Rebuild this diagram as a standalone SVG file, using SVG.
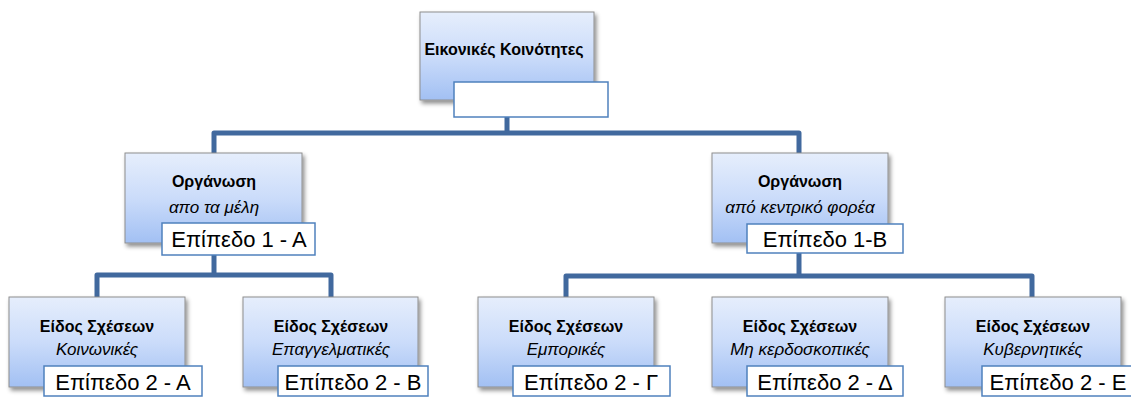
<svg xmlns="http://www.w3.org/2000/svg" width="1131" height="397" viewBox="0 0 1131 397">
  <defs>
    <linearGradient id="boxFill" x1="0" y1="0" x2="0" y2="1">
      <stop offset="0" stop-color="#e6eefc"/>
      <stop offset="0.5" stop-color="#cbdcfa"/>
      <stop offset="1" stop-color="#a2c0f3"/>
    </linearGradient>
    <filter id="shadow" x="-10%" y="-10%" width="125%" height="130%">
      <feDropShadow dx="2" dy="3" stdDeviation="2" flood-color="#000" flood-opacity="0.45"/>
    </filter>
  </defs>
  <style>
    .box { fill: url(#boxFill); stroke: #8e8e8e; stroke-width: 1; filter: url(#shadow); }
    .tag { fill: #ffffff; stroke: #4f81bd; stroke-width: 1.5; }
    .conn { fill: none; stroke: #41699e; stroke-width: 5; stroke-linejoin: round; }
    .title { font-family: "Liberation Sans", Arial, sans-serif; font-weight: bold; font-size: 16px; fill: #000; text-anchor: middle; }
    .sub { font-family: "Liberation Sans", Arial, sans-serif; font-style: italic; font-size: 17px; fill: #000; text-anchor: middle; }
    .lvl { font-family: "Liberation Sans", Arial, sans-serif; font-size: 22px; fill: #000; text-anchor: middle; }
  </style>

  <g id="connectors">
    <path class="conn" d="M507,117 V133"/>
    <path class="conn" d="M214,153 V133 H799 V153"/>
    <path class="conn" d="M214,255 V275"/>
    <path class="conn" d="M97,297 V275 H331 V297"/>
    <path class="conn" d="M799,253 V276"/>
    <path class="conn" d="M566,297 V276 H1032 V297"/>
  </g>

  <g id="root">
    <rect class="box" x="420" y="12" width="174" height="88"/>
    <text class="title" x="504" y="55">Εικονικές Κοινότητες</text>
    <rect class="tag" x="454" y="82" width="154" height="35"/>
  </g>

  <g id="org-members">
    <rect class="box" x="125" y="153" width="177" height="90"/>
    <text class="title" x="214" y="187">Οργάνωση</text>
    <text class="sub" x="214" y="213">απο τα μέλη</text>
    <rect class="tag" x="162" y="223" width="153" height="32"/>
    <text class="lvl" x="239" y="247">Επίπεδο 1 - Α</text>
  </g>

  <g id="org-central">
    <rect class="box" x="712" y="153" width="176" height="90"/>
    <text class="title" x="800" y="187">Οργάνωση</text>
    <text class="sub" x="800" y="213">από κεντρικό φορέα</text>
    <rect class="tag" x="747" y="224" width="156" height="29"/>
    <text class="lvl" x="825" y="247">Επίπεδο 1-Β</text>
  </g>

  <g id="rel-social">
    <rect class="box" x="9" y="297" width="176" height="90"/>
    <text class="title" x="97" y="332">Είδος Σχέσεων</text>
    <text class="sub" x="97" y="355">Κοινωνικές</text>
    <rect class="tag" x="44" y="366" width="158" height="30"/>
    <text class="lvl" x="123" y="390">Επίπεδο 2 - Α</text>
  </g>

  <g id="rel-professional">
    <rect class="box" x="243" y="297" width="175" height="90"/>
    <text class="title" x="331" y="332">Είδος Σχέσεων</text>
    <text class="sub" x="331" y="355">Επαγγελματικές</text>
    <rect class="tag" x="278" y="366" width="150" height="30"/>
    <text class="lvl" x="353" y="390">Επίπεδο 2 - Β</text>
  </g>

  <g id="rel-commercial">
    <rect class="box" x="478" y="297" width="176" height="90"/>
    <text class="title" x="566" y="332">Είδος Σχέσεων</text>
    <text class="sub" x="566" y="355">Εμπορικές</text>
    <rect class="tag" x="513" y="366" width="157" height="30"/>
    <text class="lvl" x="591" y="390">Επίπεδο 2 -  Γ</text>
  </g>

  <g id="rel-nonprofit">
    <rect class="box" x="712" y="297" width="176" height="90"/>
    <text class="title" x="800" y="332">Είδος Σχέσεων</text>
    <text class="sub" x="800" y="355">Μη κερδοσκοπικές</text>
    <rect class="tag" x="747" y="366" width="156" height="30"/>
    <text class="lvl" x="825" y="390">Επίπεδο 2 - Δ</text>
  </g>

  <g id="rel-government">
    <rect class="box" x="945" y="297" width="176" height="90"/>
    <text class="title" x="1033" y="332">Είδος Σχέσεων</text>
    <text class="sub" x="1033" y="355">Κυβερνητικές</text>
    <rect class="tag" x="982" y="366" width="156" height="30"/>
    <text class="lvl" x="1058" y="390">Επίπεδο 2 - Ε</text>
  </g>
</svg>
